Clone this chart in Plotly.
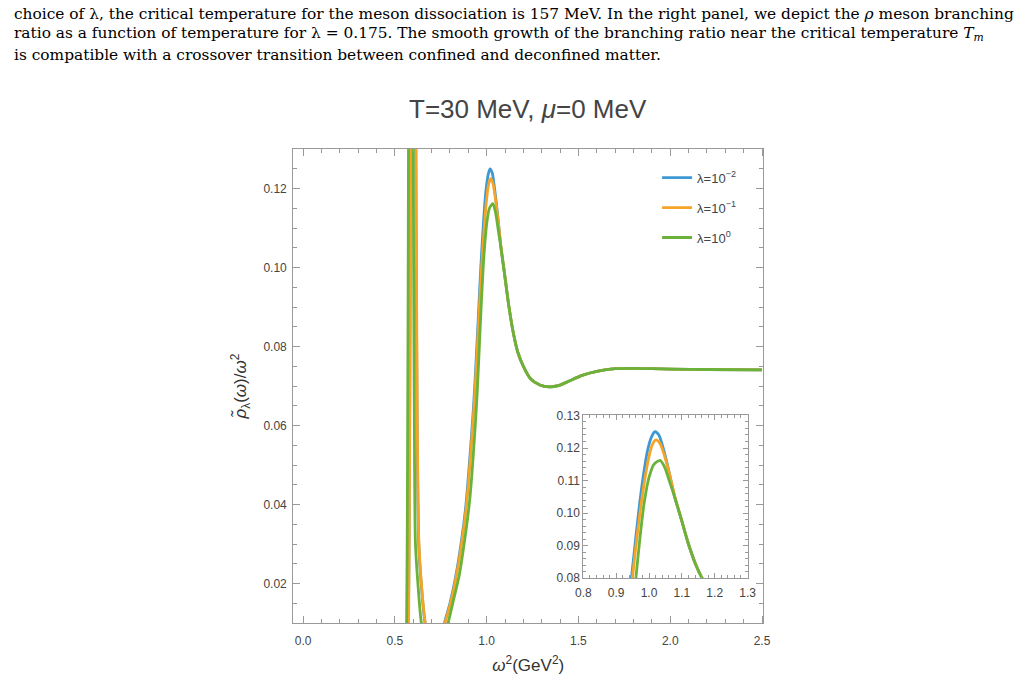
import plotly.graph_objects as go

# ---------------- data ----------------
# lambda = 1e-2 (blue)
x_blue = [0.55, 0.570, 0.574, 0.578, 0.586, 0.593, 0.600, 0.607, 0.614, 0.621, 0.630, 0.645, 0.663, 0.690, 0.740,
          0.770, 0.800, 0.830, 0.860, 0.885, 0.900, 0.915, 0.930, 0.942, 0.955, 0.968, 0.982, 0.995, 1.008, 1.018,
          1.030, 1.043, 1.058, 1.078, 1.100, 1.120, 1.145, 1.170, 1.200, 1.240, 1.290, 1.340, 1.390, 1.450, 1.520,
          1.600, 1.700, 1.800, 1.900, 2.000, 2.200, 2.500]
y_blue = [0.000, 0.004, 0.012, 0.040, 0.130, 0.400, 0.500, 0.400, 0.130, 0.060, 0.030, 0.019, 0.0105, 0.004, 0.000,
          0.0100, 0.0150, 0.0215, 0.0300, 0.0390, 0.0470, 0.0560, 0.0660, 0.0760, 0.0880, 0.1000, 0.1110, 0.1190, 0.1235, 0.1250,
          0.1240, 0.1200, 0.1140, 0.1050, 0.0975, 0.0905, 0.0835, 0.0785, 0.0750, 0.0718, 0.0703, 0.0698, 0.0701, 0.0713, 0.0727,
          0.0737, 0.0744, 0.0745, 0.0744, 0.0743, 0.0742, 0.0741]

# lambda = 1e-1 (orange)
x_orange = [0.55, 0.571, 0.575, 0.579, 0.587, 0.594, 0.601, 0.608, 0.615, 0.622, 0.631, 0.646, 0.664, 0.690, 0.740,
            0.773, 0.803, 0.833, 0.863, 0.888, 0.903, 0.918, 0.933, 0.945, 0.958, 0.971, 0.985, 0.998, 1.010, 1.021,
            1.033, 1.046, 1.061, 1.080, 1.100, 1.120, 1.145, 1.170, 1.200, 1.240, 1.290, 1.340, 1.390, 1.450, 1.520,
            1.600, 1.700, 1.800, 1.900, 2.000, 2.200, 2.500]
y_orange = [0.000, 0.004, 0.012, 0.040, 0.130, 0.400, 0.500, 0.400, 0.130, 0.060, 0.030, 0.019, 0.0105, 0.004, 0.000,
            0.0100, 0.0150, 0.0215, 0.0300, 0.0390, 0.0470, 0.0560, 0.0660, 0.0760, 0.0880, 0.0990, 0.1090, 0.1165, 0.1210, 0.1225,
            0.1215, 0.1180, 0.1125, 0.1045, 0.0975, 0.0905, 0.0835, 0.0785, 0.0750, 0.0718, 0.0703, 0.0698, 0.0701, 0.0713, 0.0727,
            0.0737, 0.0744, 0.0745, 0.0744, 0.0743, 0.0742, 0.0741]

# lambda = 1e0 (green)
x_green = [0.54, 0.560, 0.564, 0.568, 0.574, 0.580, 0.587, 0.594, 0.600, 0.606, 0.612, 0.627, 0.643, 0.670, 0.740,
           0.790, 0.820, 0.850, 0.880, 0.905, 0.920, 0.935, 0.948, 0.960, 0.972, 0.985, 1.000, 1.015, 1.034,
           1.048, 1.063, 1.080, 1.100, 1.120, 1.145, 1.170, 1.200, 1.240, 1.290, 1.340, 1.390, 1.450, 1.520,
           1.600, 1.700, 1.800, 1.900, 2.000, 2.200, 2.500]
y_green = [0.000, 0.004, 0.012, 0.040, 0.130, 0.400, 0.500, 0.400, 0.130, 0.060, 0.030, 0.019, 0.0105, 0.004, 0.000,
           0.0100, 0.0160, 0.0220, 0.0310, 0.0400, 0.0480, 0.0580, 0.0680, 0.0800, 0.0920, 0.1030, 0.1110, 0.1150, 0.1162,
           0.1140, 0.1095, 0.1043, 0.0975, 0.0905, 0.0835, 0.0785, 0.0750, 0.0718, 0.0703, 0.0698, 0.0701, 0.0713, 0.0727,
           0.0737, 0.0744, 0.0745, 0.0744, 0.0743, 0.0742, 0.0741]

series_names = ["λ=10<sup>−2</sup>", "λ=10<sup>−1</sup>", "λ=10<sup>0</sup>"]
series_colors = ["#3d98d3", "#f5a425", "#6bb23a"]

title_text = "T=30 MeV, <i>μ</i>=0 MeV"
x_title = "<i>ω</i><sup>2</sup>(GeV<sup>2</sup>)"
y_title = "<i>ρ̃</i><sub>λ</sub>(<i>ω</i>)/<i>ω</i><sup>2</sup>"

paper_lines = [
    "choice of λ, the critical temperature for the meson dissociation is 157 MeV. In the right panel, we depict the <i>ρ</i> meson branching",
    "ratio as a function of temperature for λ = 0.175. The smooth growth of the branching ratio near the critical temperature <i>T<sub>m</sub></i>",
    "is compatible with a crossover transition between confined and deconfined matter.",
]

# ---------------- figure ----------------
W, H = 1028, 686
fig = go.Figure()

xs = [x_blue, x_orange, x_green]
ys = [y_blue, y_orange, y_green]
for i in range(3):
    fig.add_trace(go.Scatter(x=xs[i], y=ys[i], mode="lines", name=series_names[i],
                             line=dict(color=series_colors[i], width=2.8, shape="spline", smoothing=0.7),
                             legendgroup=str(i), xaxis="x", yaxis="y"))
for i in range(3):
    fig.add_trace(go.Scatter(x=xs[i], y=ys[i], mode="lines", showlegend=False,
                             line=dict(color=series_colors[i], width=2.8, shape="spline", smoothing=0.7),
                             xaxis="x2", yaxis="y2"))

FRAME = "#999999"
TICKFONT = dict(family="Liberation Sans, Arial", size=12, color="#444444")

def px_x(p):
    return p / W

def px_y(p):
    return 1 - p / H

common = dict(showline=True, linecolor=FRAME, linewidth=1, mirror="ticks",
              ticks="inside", tickcolor=FRAME, ticklen=7, tickwidth=1,
              showgrid=False, zeroline=False, tickfont=TICKFONT)

fig.update_layout(
    width=W, height=H,
    margin=dict(l=0, r=0, t=0, b=0),
    paper_bgcolor="white", plot_bgcolor="white",
    font=dict(family="Liberation Sans, Arial", color="#444444"),
    xaxis=dict(domain=[px_x(290), px_x(768)], range=[-0.054, 2.507],
               tickvals=[0, 0.5, 1.0, 1.5, 2.0, 2.5], tickformat=".1f", ticklabelstandoff=6,
               minor=dict(dtick=0.1, ticks="inside", ticklen=4, tickcolor=FRAME, showgrid=False),
               title=dict(text=x_title, font=dict(size=17, color="#333333"), standoff=12),
               **common),
    yaxis=dict(domain=[px_y(629), px_y(145)], range=[0.01, 0.13],
               tickvals=[0.02, 0.04, 0.06, 0.08, 0.10, 0.12], tickformat=".2f", ticklabelstandoff=3,
               minor=dict(dtick=0.005, ticks="inside", ticklen=4, tickcolor=FRAME, showgrid=False),
               title=dict(text=y_title, font=dict(size=17, color="#333333"), standoff=12),
               **common),
    xaxis2=dict(domain=[px_x(585), px_x(752)], range=[0.8, 1.3], anchor="y2",
                tickvals=[0.8, 0.9, 1.0, 1.1, 1.2, 1.3], tickformat=".1f", ticklabelstandoff=3,
                minor=dict(dtick=0.02, ticks="inside", ticklen=3, tickcolor=FRAME, showgrid=False),
                **{**common, "ticklen": 5}),
    yaxis2=dict(domain=[px_y(583), px_y(417)], range=[0.08, 0.13], anchor="x2",
                tickvals=[0.08, 0.09, 0.10, 0.11, 0.12, 0.13], tickformat=".2f", ticklabelstandoff=0,
                minor=dict(dtick=0.002, ticks="inside", ticklen=3, tickcolor=FRAME, showgrid=False),
                **{**common, "ticklen": 5}),
    legend=dict(x=px_x(660), y=px_y(159), xanchor="left", yanchor="top",
                bgcolor="rgba(0,0,0,0)", font=dict(size=13, color="#444444"),
                tracegroupgap=10, itemwidth=30),
    showlegend=True,
)

# title
fig.add_annotation(text=title_text, x=px_x(529), y=px_y(104), xref="paper", yref="paper",
                   showarrow=False, xanchor="center", yanchor="middle",
                   font=dict(size=26, color="#444444", family="Liberation Sans, Arial"))

# paper text above the figure
line_y = [7, 28, 49]
for t, yy in zip(paper_lines, line_y):
    fig.add_annotation(text=t, x=px_x(4), y=px_y(yy), xref="paper", yref="paper",
                       showarrow=False, xanchor="left", yanchor="middle", align="left",
                       font=dict(size=15.4, color="#000000", family="DejaVu Serif"))

fig.write_html("out.html")
